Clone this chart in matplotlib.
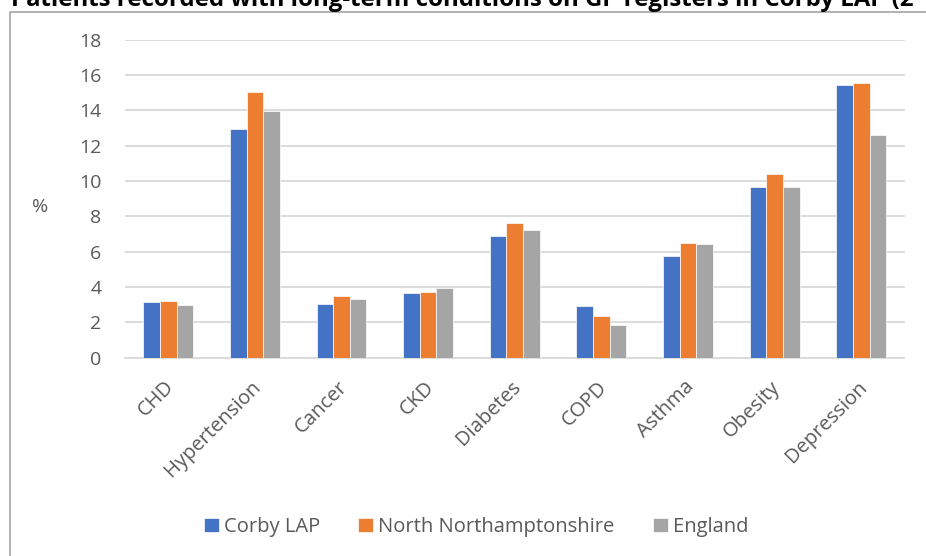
import matplotlib
matplotlib.use('Agg')
import matplotlib.pyplot as plt
import matplotlib.transforms as mtransforms
from matplotlib.patches import Rectangle
import numpy as np

# chart data (% of patients on GP registers)
conditions = ['CHD', 'Hypertension', 'Cancer', 'CKD', 'Diabetes', 'COPD', 'Asthma', 'Obesity', 'Depression']
corby = [3.17, 12.95, 3.06, 3.65, 6.91, 2.93, 5.78, 9.67, 15.45]
north_northants = [3.21, 15.05, 3.50, 3.74, 7.61, 2.34, 6.52, 10.41, 15.55]
england = [2.99, 13.96, 3.33, 3.95, 7.24, 1.83, 6.44, 9.69, 12.62]
series_names = ['Corby LAP', 'North Northamptonshire', 'England']
colors = ['#4472C4', '#ED7D31', '#A5A5A5']
y_ticks = [0, 2, 4, 6, 8, 10, 12, 14, 16, 18]

plt.rcParams['font.family'] = ['Open Sans', 'DejaVu Sans']
text_grey = '#595959'
grid_grey = '#D9D9D9'

W, H = 926, 556
fig = plt.figure(figsize=(W / 100, H / 100), dpi=100)

# outer chart frame (runs past the right and bottom edges of the picture)
fig.add_artist(Rectangle((10 / W, -0.1), 2, 1.1 - 11.5 / H, transform=fig.transFigure,
                         fill=False, edgecolor='#A6A6A6', linewidth=1.2))

# title, partly cut off at the top like the original
fig.text(11 / W, 1 - 6 / H, 'Patients recorded with long-term conditions on GP registers in Corby LAP (2',
         fontsize=17.3, fontweight='bold', color='black', ha='left', va='baseline')

ax = fig.add_axes([125 / W, 1 - 357.7 / H, 779.5 / W, (357.7 - 39.7) / H])

x = np.arange(len(conditions))
bar_w = 0.192
for i, (vals, name, col) in enumerate(zip([corby, north_northants, england], series_names, colors)):
    ax.bar(x + (i - 1) * bar_w, vals, bar_w, color=col, label=name,
           edgecolor='white', linewidth=0.5, zorder=3)

ax.set_xlim(-0.5, len(conditions) - 0.5)
ax.set_ylim(0, 18)
ax.set_yticks(y_ticks)
ax.set_yticklabels([str(t) for t in y_ticks])
ax.yaxis.grid(True, color=grid_grey, linewidth=1.3, zorder=0)
ax.set_axisbelow(True)
for side in ['top', 'right', 'left']:
    ax.spines[side].set_visible(False)
ax.spines['bottom'].set_color(grid_grey)
ax.spines['bottom'].set_linewidth(1.3)
ax.tick_params(axis='both', length=0, labelsize=14, labelcolor=text_grey)
ax.tick_params(axis='y', pad=17)
ax.tick_params(axis='x', pad=19, labelsize=14.5)

ax.set_xticks(x)
ax.set_xticklabels(conditions, rotation=45, ha='right', va='center', rotation_mode='anchor')
shift = mtransforms.ScaledTranslation(3 / 100, 0, fig.dpi_scale_trans)
for lbl in ax.get_xticklabels():
    lbl.set_transform(lbl.get_transform() + shift)

fig.text(40 / W, 1 - 207 / H, '%', fontsize=14, color=text_grey, ha='center', va='center')

leg = fig.legend(loc='center', bbox_to_anchor=(476 / W, 1 - 527 / H), ncol=3, frameon=False,
                 fontsize=14.5, handlelength=0.75, handleheight=0.75, handletextpad=0.25,
                 columnspacing=1.9)
for t in leg.get_texts():
    t.set_color(text_grey)

fig.savefig('out.png', dpi=100)
